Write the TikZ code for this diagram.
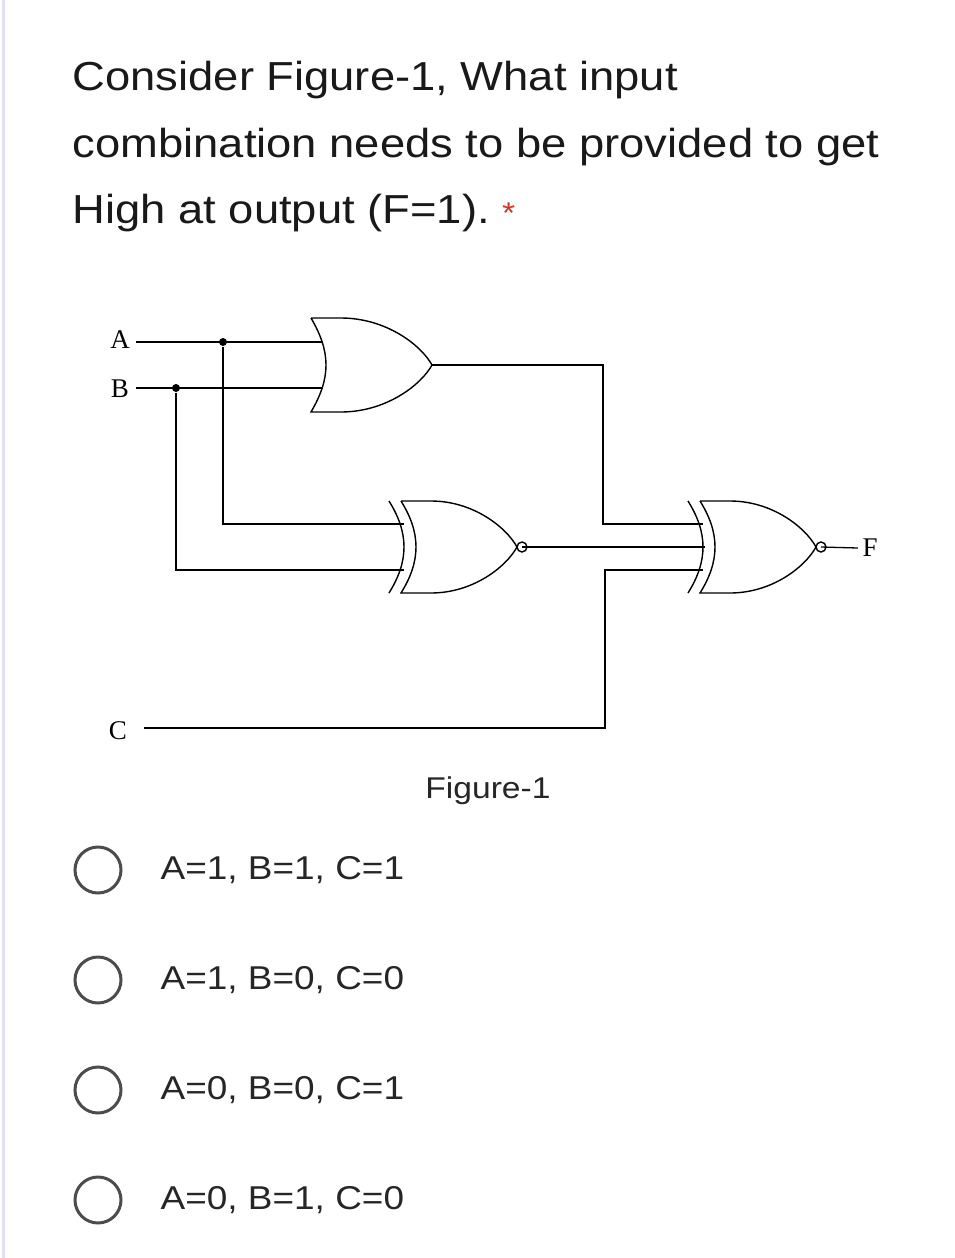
\documentclass[tikz,border=0pt]{standalone}
\usepackage{fontspec}
\setmainfont{Liberation Serif}
\newfontfamily\uifont[FakeStretch=1.12]{Liberation Sans}
\begin{document}
\begin{tikzpicture}[x=1pt,y=-1pt,line width=1.3pt,
  wire/.style={line width=1.3pt},
  gateline/.style={line width=1.4pt},
  dotj/.style={circle,fill,inner sep=0pt,minimum size=8pt},
  lbl/.style={font=\fontsize{27}{27}\selectfont,inner sep=0pt},
  qtext/.style={font=\uifont\fontsize{40.5}{40.5}\selectfont,anchor=base west,inner sep=0pt,text=black!90},
  opt/.style={font=\uifont\fontsize{33}{33}\selectfont,anchor=west,inner sep=0pt,text=black!85},
  radio/.style={circle,draw=black!70,line width=3pt,minimum size=46pt,inner sep=0pt},
  pics/orshape/.style={code={
    \draw[gateline] (0,0) -- (30,0) .. controls (75,0) and (110,27) .. (121,47) .. controls (110,67) and (75,94) .. (30,94) -- (0,94) .. controls (20,60) and (20,34) .. (0,0);}},
  pics/xnorshape/.style={code={
    \draw[gateline] (0,0) -- (30,0) .. controls (72,0) and (105,26) .. (116,46) .. controls (105,66) and (72,92) .. (30,92) -- (0,92) .. controls (20,60) and (20,32) .. (0,0);
    \draw[gateline] (-12,0) .. controls (8,32) and (8,60) .. (-12,92);
    \draw[gateline,fill=white] (121,46) circle (5);}}]
\useasboundingbox (0,0) rectangle (955,1258);
\fill[white] (0,0) rectangle (955,1258);
\draw[color={rgb,255:red,225;green,225;blue,240},line width=3pt] (3,0) -- (3,1258);
% question
\node[qtext] (q1) at (72,90) {Consider Figure-1, What input};
\node[qtext] (q2) at (72,157) {combination needs to be provided to get};
\node[qtext] (q3) at (72,223) {High at output (F=1).\hspace{0.3em}\textcolor[RGB]{217,48,37}{\fontsize{30}{30}\selectfont *}};
% gates
\pic at (311,318) {orshape};
\pic at (401,501) {xnorshape};
\pic at (700,501) {xnorshape};
% coordinates
\node[lbl] (A) at (120,340) {A};
\node[lbl] (B) at (120,389) {B};
\node[lbl] (C) at (118,731) {C};
\node[lbl] (F) at (870,548) {F};
\coordinate (ja) at (223,342);
\coordinate (jb) at (176,388);
\coordinate (or1a) at (323,342);
\coordinate (or1b) at (323,388);
\coordinate (or1o) at (432,365);
\coordinate (x1a) at (404,524);
\coordinate (x1b) at (404,570);
\coordinate (x1o) at (522,547);
\coordinate (x2a) at (703,524);
\coordinate (x2b) at (705,547);
\coordinate (x2c) at (703,570);
\coordinate (x2o) at (821,547);
\coordinate (cin) at (144,728);
\draw[wire] (A.east)+(6,2) -- (or1a);
\draw[wire] (B.east)+(6,-1) -- (or1b);
\node[dotj] (dA) at (ja) {};
\node[dotj] (dB) at (jb) {};
\draw[wire] (dA) |- (x1a);
\draw[wire] (dB) |- (x1b);
\draw[wire] (or1o) -| (603,524) -- (x2a);
\draw[wire] (x1o) -- (x2b);
\draw[wire] (cin) -| (605,570) -- (x2c);
\draw[wire] (x2o) -- ([xshift=-4pt]F.west);
% caption
\node[font=\uifont\fontsize{30}{30}\selectfont,inner sep=0pt,text=black!85] (cap) at (488,791) {Figure-1};
% options
\foreach \y/\t [count=\i] in {870/{A=1, B=1, C=1},980/{A=1, B=0, C=0},1090/{A=0, B=0, C=1},1200/{A=0, B=1, C=0}}{
  \node[radio] (r\i) at (98,\y) {};
  \node[opt] (o\i) at (160,\y) {\t};
}
\end{tikzpicture}
\end{document}
